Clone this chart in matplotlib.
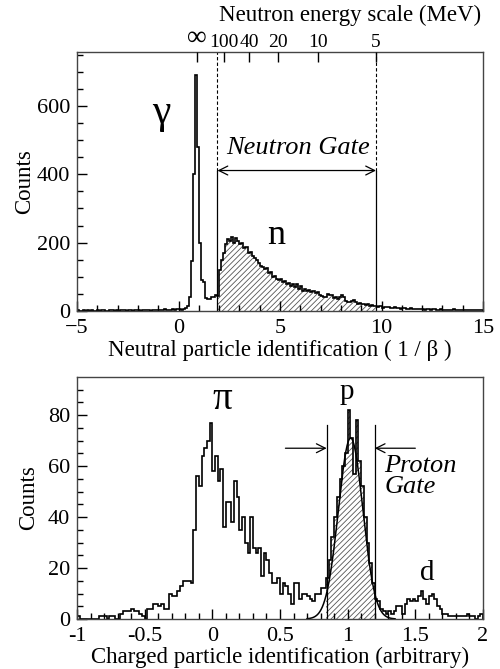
import numpy as np
import matplotlib
matplotlib.use("Agg")
import matplotlib.pyplot as plt

plt.rcParams['font.family'] = ['Liberation Serif', 'DejaVu Serif']
plt.rcParams['hatch.linewidth'] = 0.6
plt.rcParams['hatch.color'] = '#555555'

# ---- top panel: neutral particle id (1/beta), bins of 0.1 from -5 to 15
neutral_edges = np.round(np.arange(-5.0, 15.0001, 0.1), 2)
neutral_counts = [
    2, 1, 0, 2, 1, 3, 1, 2, 0, 1, 2, 1, 3, 2, 1, 0, 2, 3, 1, 2,
    1, 2, 4, 2, 1, 3, 2, 1, 2, 3, 2, 1, 3, 4, 2, 3, 1, 2, 3, 2,
    3, 4, 2, 5, 3, 4, 3, 6, 4, 5,
    # 0.0 .. 1.8
    5, 4, 6, 8, 15, 40, 145, 400, 690, 480,
    200, 90, 85, 39, 36, 35, 40, 42, 47,
    # 1.9 .. 9.7 (neutron gate)
    45,
    119, 150, 170, 195, 210, 205, 218, 200, 215, 205,
    195, 198, 185, 188, 170, 172, 160, 155, 148, 140,
    132, 128, 122, 125, 112, 115, 100, 104, 95, 92,
    94, 85, 88, 80, 82, 73, 78, 70, 80, 66,
    72, 60, 65, 58, 62, 55, 60, 52, 56, 48,
    45, 40, 42, 50, 46, 48, 38, 42, 36, 40,
    48, 42, 30, 28, 26, 30, 32, 26, 22, 24,
    20, 22, 18, 20, 16, 18, 14, 15,
    # 9.8 .. 14.9
    12, 14, 10, 12, 11, 13, 10, 9, 11, 8,
    9, 7, 8, 10, 7, 6, 8, 7, 5, 7,
    6, 5, 7, 4, 6, 5, 4, 6, 5, 3,
    4, 5, 3, 4, 2, 4, 3, 5, 3, 4,
    2, 3, 4, 2, 3, 2, 4, 3, 2, 3, 2, 4,
]
neutron_gate = (1.92, 9.73)
energy_ticks = [0.9, 2.26, 3.49, 4.89, 6.89, 9.73]
energy_labels = ['∞', '100', '40', '20', '10', '5']

# ---- bottom panel: charged particle id, bins of 0.02 from -1 to 2
charged_edges = np.round(np.arange(-1.0, 2.0001, 0.02), 3)
charged_counts = [
    1, 0, 0, 0, 0, 0, 0, 0, 1, 1,
    1, 0, 1, 1, 0, 0, 2, 3, 3, 3,
    4, 3, 3, 2, 1, 0, 4, 4, 6, 6,
    5, 6, 4, 4, 10, 9, 9, 11, 13, 15,
    15, 15, 14, 35, 56, 52, 64, 67, 70, 77,
    58, 64, 54, 59, 36, 46, 46, 38, 54, 48,
    35, 40, 30, 26, 40, 28, 26, 28, 17, 26,
    23, 18, 14, 14, 16, 10, 14, 13, 10, 6,
    14, 14, 8, 10, 10, 9, 8, 7, 10, 10,
    12, 12, 16, 23, 32, 40, 48, 55, 60, 65,
    82, 71, 57, 78, 62, 52, 40, 30, 22, 14,
    8, 7, 4, 3, 2, 3, 2, 3, 5, 5,
    2, 6, 8, 7, 8, 7, 9, 11, 8, 6,
    9, 10, 8, 5, 4, 2, 2, 1, 1, 1,
    1, 1, 1, 1, 2, 1, 1, 0, 1, 2,
]
proton_gate = (0.845, 1.2)
# gaussian fit on the proton peak: amplitude, mean, sigma
fit_amp, fit_mean, fit_sigma = 71.0, 1.022, 0.09

neutral_counts = np.array(neutral_counts, dtype=float)
charged_counts = np.array(charged_counts, dtype=float)

fig = plt.figure(figsize=(5.0, 6.69), dpi=100)
ax1 = fig.add_axes([0.154, 0.535, 0.812, 0.387])
ax2 = fig.add_axes([0.154, 0.0747, 0.812, 0.362])

TICK_FS = 16
LABEL_FS = 16.5


def style_axis(ax):
    ax.tick_params(which='both', direction='in', top=False, right=False,
                   labelsize=TICK_FS)
    ax.tick_params(axis='y', pad=5)
    ax.tick_params(axis='x', pad=6)
    ax.tick_params(which='major', length=7, width=1)
    ax.tick_params(which='minor', length=4, width=1)
    for s in ax.spines.values():
        s.set_linewidth(1.0)
        s.set_color('#444444')


# ---------------- top panel
lo, hi = np.searchsorted(neutral_edges, [1.9, 9.8])
ax1.stairs(neutral_counts[lo:hi], neutral_edges[lo:hi + 1], fill=True,
           facecolor='white', edgecolor='#555555', hatch='//////', linewidth=0)
ax1.stairs(neutral_counts, neutral_edges, color='black', linewidth=1.2)

ax1.set_xlim(-5, 15)
ax1.set_ylim(0, 757)
ax1.set_xticks([-5, 0, 5, 10, 15])
ax1.set_xticks(np.arange(-5, 15.1, 1), minor=True)
ax1.set_yticks([0, 200, 400, 600])
ax1.set_yticks(np.arange(0, 751, 50), minor=True)
style_axis(ax1)
ax1.set_xlabel('Neutral particle identification ( 1 / β )', fontsize=LABEL_FS,
               labelpad=1)
ax1.set_ylabel('Counts', fontsize=LABEL_FS, labelpad=1)

arrow_y = 411
for gx in neutron_gate:
    ax1.plot([gx, gx], [0, arrow_y], color='black', lw=0.9)
    ax1.plot([gx, gx], [arrow_y, 757], color='black', lw=0.8, ls=(0, (3, 2)))
ax1.annotate('', xy=(neutron_gate[0], arrow_y), xytext=(neutron_gate[1], arrow_y),
             arrowprops=dict(arrowstyle='<->', color='black', lw=0.9,
                             shrinkA=0, shrinkB=0, mutation_scale=16))
ax1.text(5.9, 478, 'Neutron Gate', fontsize=19, style='italic',
         ha='center', va='center')
ax1.text(-0.85, 580, 'γ', fontsize=30, ha='center', va='center')
ax1.text(4.8, 222, 'n', fontsize=26, ha='center', va='center')

top = ax1.twiny()
top.set_xlim(ax1.get_xlim())
top.set_xticks(energy_ticks)
top.set_xticklabels(energy_labels)
top.tick_params(axis='x', direction='in', length=7, width=1, labelsize=14, pad=1)
for lab in top.get_xticklabels():
    if lab.get_text() == '∞':
        lab.set_fontsize(20)
for s in top.spines.values():
    s.set_visible(False)
fig.text(0.70, 0.977, 'Neutron energy scale (MeV)', fontsize=LABEL_FS,
         ha='center', va='center')

# ---------------- bottom panel
lo, hi = np.searchsorted(charged_edges, [0.84, 1.2])
ax2.stairs(charged_counts[lo:hi], charged_edges[lo:hi + 1], fill=True,
           facecolor='white', edgecolor='#555555', hatch='//////', linewidth=0)
ax2.stairs(charged_counts, charged_edges, color='black', linewidth=1.2)

xf = np.linspace(0.7, 1.35, 300)
ax2.plot(xf, fit_amp * np.exp(-0.5 * ((xf - fit_mean) / fit_sigma) ** 2),
         color='black', lw=1.1)

ax2.set_xlim(-1, 2)
ax2.set_ylim(0, 95)
ax2.set_xticks([-1, -0.5, 0, 0.5, 1, 1.5, 2])
ax2.set_xticklabels(['-1', '-0.5', '0', '0.5', '1', '1.5', '2'])
ax2.set_xticks(np.arange(-1, 2.01, 0.1), minor=True)
ax2.set_yticks([0, 20, 40, 60, 80])
ax2.set_yticks(np.arange(0, 95, 5), minor=True)
style_axis(ax2)
ax2.set_xlabel('Charged particle identification (arbitrary)', fontsize=LABEL_FS,
               labelpad=0)
ax2.set_ylabel('Counts', fontsize=LABEL_FS, labelpad=6)

for gx in proton_gate:
    ax2.plot([gx, gx], [0, 76], color='black', lw=0.9)
ax2.annotate('', xy=(proton_gate[0], 67), xytext=(0.54, 67),
             arrowprops=dict(arrowstyle='->', color='black', lw=0.9,
                             shrinkA=0, shrinkB=0, mutation_scale=16))
ax2.annotate('', xy=(proton_gate[1], 67), xytext=(1.5, 67),
             arrowprops=dict(arrowstyle='->', color='black', lw=0.9,
                             shrinkA=0, shrinkB=0, mutation_scale=16))
ax2.text(1.27, 56, 'Proton\nGate', fontsize=19, style='italic',
         ha='left', va='center', linespacing=0.95)
ax2.text(0.07, 86, 'π', fontsize=28, ha='center', va='center')
ax2.text(0.99, 89, 'p', fontsize=21, ha='center', va='center')
ax2.text(1.59, 18, 'd', fontsize=21, ha='center', va='center')

fig.savefig('out.png', dpi=100)
